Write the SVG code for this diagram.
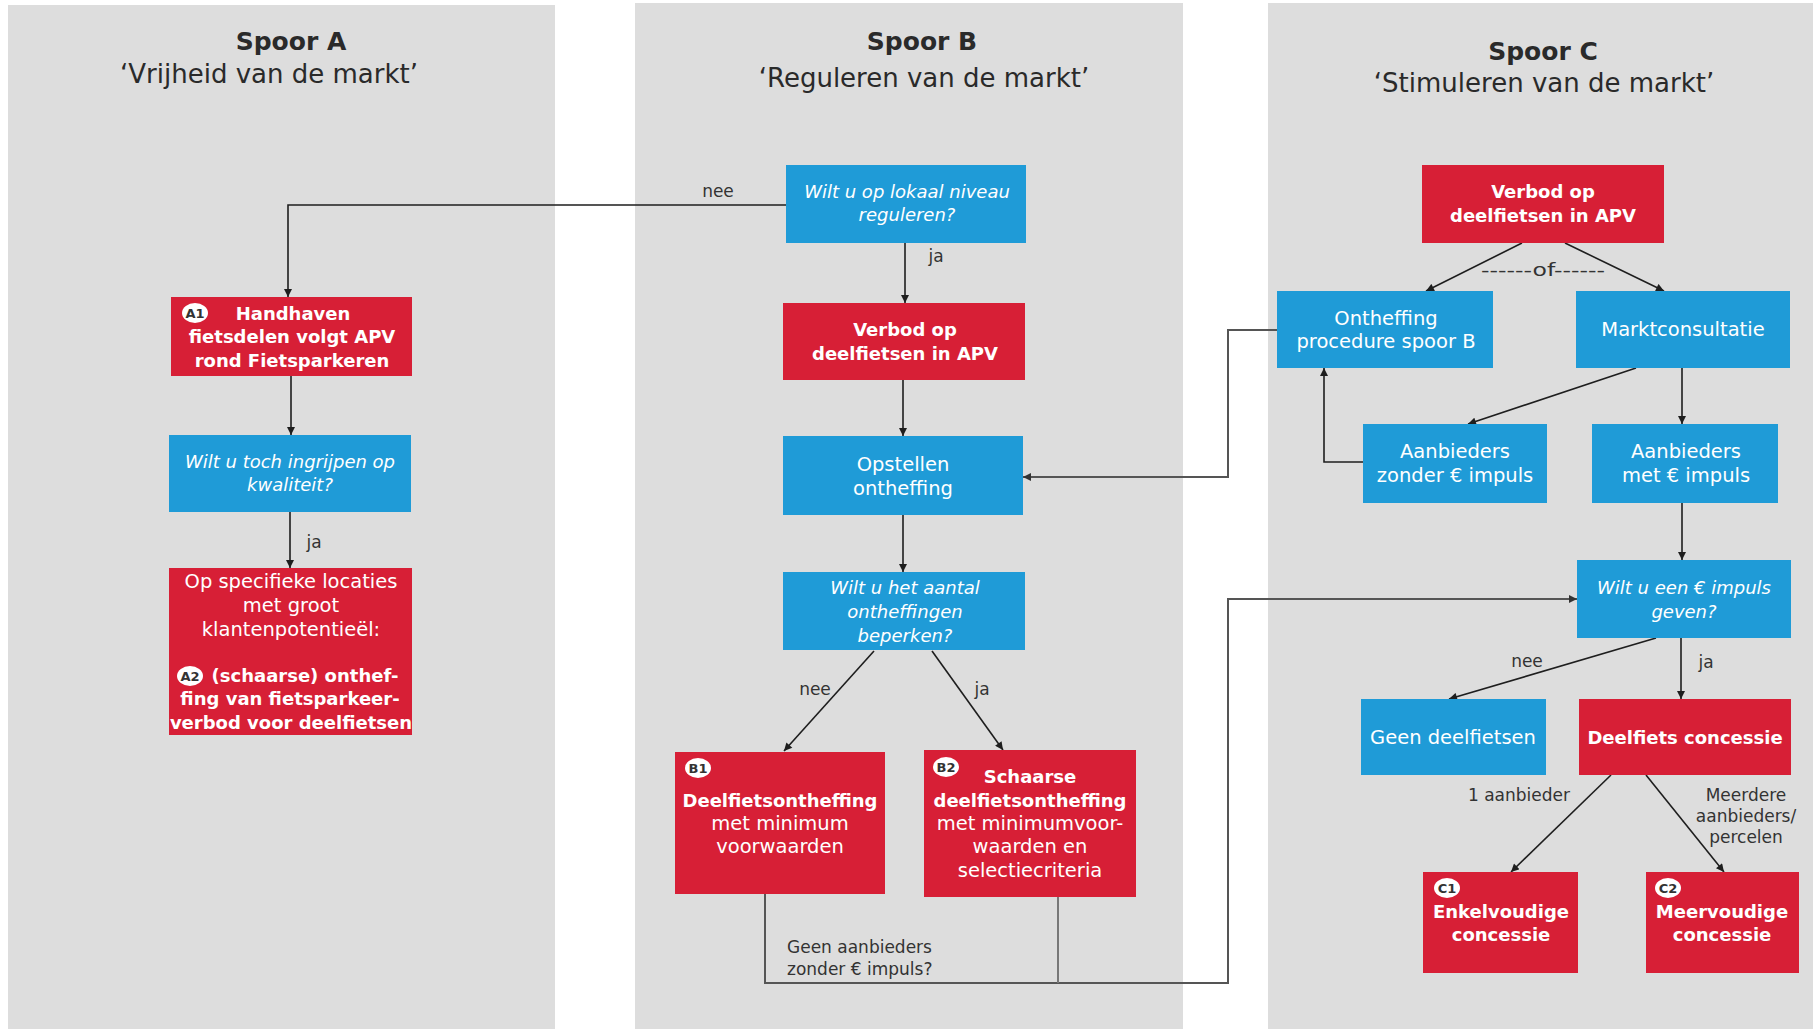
<svg xmlns="http://www.w3.org/2000/svg" width="1813" height="1029" viewBox="0 0 1813 1029">
<defs>
<style>
.panel{fill:#dddddd}
.red{fill:#d71f36}
.blue{fill:#1f9bd7}
text{font-family:"DejaVu Sans","Liberation Sans",sans-serif}
.t{font-size:25px;font-weight:bold;fill:#2a2a2a;text-anchor:middle}
.st{font-size:26px;fill:#2a2a2a;text-anchor:middle}
.w{font-size:19.5px;fill:#ffffff;text-anchor:middle}
.wi{font-size:18px;font-style:italic;fill:#ffffff;text-anchor:middle}
.wb{font-size:18px;font-weight:bold;fill:#ffffff;text-anchor:middle}
.lbl{font-size:17px;fill:#333333;text-anchor:middle}
.lbls{font-size:17px;fill:#333333}
.badge{fill:#ffffff}
.bt{font-size:13px;font-weight:bold;fill:#333333;text-anchor:middle}
.c{fill:none;stroke:#1e1e1e;stroke-width:1.6}
.g{fill:none;stroke:#555555;stroke-width:2}
.g2{fill:none;stroke:#777777;stroke-width:2}
</style>
<marker id="ah" viewBox="0 0 10 10" refX="10" refY="5" markerWidth="9" markerHeight="8" markerUnits="userSpaceOnUse" orient="auto">
<path d="M0,0 L10,5 L0,10 z" fill="#1e1e1e"/>
</marker>
<marker id="ahg" viewBox="0 0 10 10" refX="10" refY="5" markerWidth="9" markerHeight="8" markerUnits="userSpaceOnUse" orient="auto">
<path d="M0,0 L10,5 L0,10 z" fill="#333333"/>
</marker>
</defs>

<g id="panels">
<rect class="panel" x="8" y="5" width="547" height="1024"/>
<rect class="panel" x="635" y="3" width="548" height="1026"/>
<rect class="panel" x="1268" y="3" width="545" height="1026"/>
<text class="t" x="291" y="50">Spoor A</text>
<text class="st" x="269" y="83">‘Vrijheid van de markt’</text>
<text class="t" x="922" y="50">Spoor B</text>
<text class="st" x="924" y="87">‘Reguleren van de markt’</text>
<text class="t" x="1543" y="60">Spoor C</text>
<text class="st" x="1544" y="92">‘Stimuleren van de markt’</text>
</g>

<g id="connectors">
<path class="c" d="M786,205 H288 V297" marker-end="url(#ah)"/>
<path class="c" d="M905,243 V303" marker-end="url(#ah)"/>
<path class="c" d="M903,380 V436" marker-end="url(#ah)"/>
<path class="c" d="M903,515 V572" marker-end="url(#ah)"/>
<path class="c" d="M874,651 L784,751" marker-end="url(#ah)"/>
<path class="c" d="M932,651 L1003,750" marker-end="url(#ah)"/>
<path class="c" d="M291,376 V435" marker-end="url(#ah)"/>
<path class="c" d="M290,512 V568" marker-end="url(#ah)"/>
<path class="c" d="M1522,243 L1426,291" marker-end="url(#ah)"/>
<path class="c" d="M1565,243 L1664,291" marker-end="url(#ah)"/>
<path class="g" d="M1277,330 H1228 V477 H1023" marker-end="url(#ahg)"/>
<path class="c" d="M1636,368 L1468,424" marker-end="url(#ah)"/>
<path class="c" d="M1682,368 V424" marker-end="url(#ah)"/>
<path class="c" d="M1363,462 H1324 V368" marker-end="url(#ah)"/>
<path class="c" d="M1682,503 V560" marker-end="url(#ah)"/>
<path class="g" d="M765,894 V983 H1228 V599 H1577" marker-end="url(#ahg)"/>
<path class="g2" d="M1058,897 V983"/>
<path class="c" d="M1656,638 L1449,699" marker-end="url(#ah)"/>
<path class="c" d="M1681,638 V699" marker-end="url(#ah)"/>
<path class="c" d="M1611,775 L1511,872" marker-end="url(#ah)"/>
<path class="c" d="M1646,775 L1724,872" marker-end="url(#ah)"/>
<text class="lbl" x="718" y="197">nee</text>
<text class="lbl" x="936" y="262">ja</text>
<text class="lbl" x="314" y="548">ja</text>
<text class="lbl" x="815" y="695">nee</text>
<text class="lbl" x="982" y="695">ja</text>
<text class="lbls" x="787" y="953">Geen aanbieders</text>
<text class="lbls" x="787" y="975">zonder € impuls?</text>
<text class="lbl" x="1543" y="276" textLength="124" lengthAdjust="spacingAndGlyphs">------of------</text>
<text class="lbl" x="1527" y="667">nee</text>
<text class="lbl" x="1706" y="668">ja</text>
<text class="lbl" x="1519" y="801">1 aanbieder</text>
<text class="lbl" x="1746" y="801">Meerdere</text>
<text class="lbl" x="1746" y="822">aanbieders/</text>
<text class="lbl" x="1746" y="843">percelen</text>
</g>

<g id="A1">
<rect class="red" x="171" y="297" width="241" height="79"/>
<ellipse class="badge" cx="195" cy="313" rx="13" ry="10"/>
<text class="bt" x="195" y="318">A1</text>
<text class="wb" x="293" y="320">Handhaven</text>
<text class="wb" x="292" y="343">fietsdelen volgt APV</text>
<text class="wb" x="292" y="367">rond Fietsparkeren</text>
</g>

<g id="A-vraag">
<rect class="blue" x="169" y="435" width="242" height="77"/>
<text class="wi" x="290" y="468">Wilt u toch ingrijpen op</text>
<text class="wi" x="290" y="491">kwaliteit?</text>
</g>

<g id="A2">
<rect class="red" x="169" y="568" width="243" height="167"/>
<text class="w" x="291" y="588">Op specifieke locaties</text>
<text class="w" x="291" y="612">met groot</text>
<text class="w" x="291" y="636">klantenpotentieël:</text>
<ellipse class="badge" cx="190" cy="676" rx="13" ry="10"/>
<text class="bt" x="190" y="681">A2</text>
<text class="wb" x="305" y="682">(schaarse) onthef-</text>
<text class="wb" x="290" y="705">fing van fietsparkeer-</text>
<text class="wb" x="291" y="729">verbod voor deelfietsen</text>
</g>

<g id="B-vraag1">
<rect class="blue" x="786" y="165" width="240" height="78"/>
<text class="wi" x="907" y="198">Wilt u op lokaal niveau</text>
<text class="wi" x="907" y="221">reguleren?</text>
</g>

<g id="B-verbod">
<rect class="red" x="783" y="303" width="242" height="77"/>
<text class="wb" x="905" y="336">Verbod op</text>
<text class="wb" x="905" y="360">deelfietsen in APV</text>
</g>

<g id="B-opstellen">
<rect class="blue" x="783" y="436" width="240" height="79"/>
<text class="w" x="903" y="471">Opstellen</text>
<text class="w" x="903" y="495">ontheffing</text>
</g>

<g id="B-vraag2">
<rect class="blue" x="783" y="572" width="242" height="78"/>
<text class="wi" x="905" y="594">Wilt u het aantal</text>
<text class="wi" x="905" y="618">ontheffingen</text>
<text class="wi" x="905" y="642">beperken?</text>
</g>

<g id="B1">
<rect class="red" x="675" y="752" width="210" height="142"/>
<ellipse class="badge" cx="698" cy="768" rx="13" ry="10"/>
<text class="bt" x="698" y="773">B1</text>
<text class="wb" x="780" y="807">Deelfietsontheffing</text>
<text class="w" x="780" y="830">met minimum</text>
<text class="w" x="780" y="853">voorwaarden</text>
</g>

<g id="B2">
<rect class="red" x="924" y="750" width="212" height="147"/>
<ellipse class="badge" cx="946" cy="767" rx="13" ry="10"/>
<text class="bt" x="946" y="772">B2</text>
<text class="wb" x="1030" y="783">Schaarse</text>
<text class="wb" x="1030" y="807">deelfietsontheffing</text>
<text class="w" x="1030" y="830">met minimumvoor-</text>
<text class="w" x="1030" y="853">waarden en</text>
<text class="w" x="1030" y="877">selectiecriteria</text>
</g>

<g id="C-verbod">
<rect class="red" x="1422" y="165" width="242" height="78"/>
<text class="wb" x="1543" y="198">Verbod op</text>
<text class="wb" x="1543" y="222">deelfietsen in APV</text>
</g>

<g id="C-ontheffing">
<rect class="blue" x="1277" y="291" width="216" height="77"/>
<text class="w" x="1386" y="325">Ontheffing</text>
<text class="w" x="1386" y="348">procedure spoor B</text>
</g>

<g id="C-markt">
<rect class="blue" x="1576" y="291" width="214" height="77"/>
<text class="w" x="1683" y="336">Marktconsultatie</text>
</g>

<g id="C-zonder">
<rect class="blue" x="1363" y="424" width="184" height="79"/>
<text class="w" x="1455" y="458">Aanbieders</text>
<text class="w" x="1455" y="482">zonder € impuls</text>
</g>

<g id="C-met">
<rect class="blue" x="1592" y="424" width="186" height="79"/>
<text class="w" x="1686" y="458">Aanbieders</text>
<text class="w" x="1686" y="482">met € impuls</text>
</g>

<g id="C-vraag">
<rect class="blue" x="1577" y="560" width="214" height="78"/>
<text class="wi" x="1684" y="594">Wilt u een € impuls</text>
<text class="wi" x="1684" y="618">geven?</text>
</g>

<g id="C-geen">
<rect class="blue" x="1361" y="699" width="185" height="76"/>
<text class="w" x="1453" y="744">Geen deelfietsen</text>
</g>

<g id="C-concessie">
<rect class="red" x="1579" y="699" width="212" height="76"/>
<text class="wb" x="1685" y="744">Deelfiets concessie</text>
</g>

<g id="C1">
<rect class="red" x="1423" y="872" width="155" height="101"/>
<ellipse class="badge" cx="1447" cy="888" rx="13" ry="10"/>
<text class="bt" x="1447" y="893">C1</text>
<text class="wb" x="1501" y="918">Enkelvoudige</text>
<text class="wb" x="1501" y="941">concessie</text>
</g>

<g id="C2">
<rect class="red" x="1646" y="872" width="153" height="101"/>
<ellipse class="badge" cx="1668" cy="888" rx="13" ry="10"/>
<text class="bt" x="1668" y="893">C2</text>
<text class="wb" x="1722" y="918">Meervoudige</text>
<text class="wb" x="1722" y="941">concessie</text>
</g>
</svg>
